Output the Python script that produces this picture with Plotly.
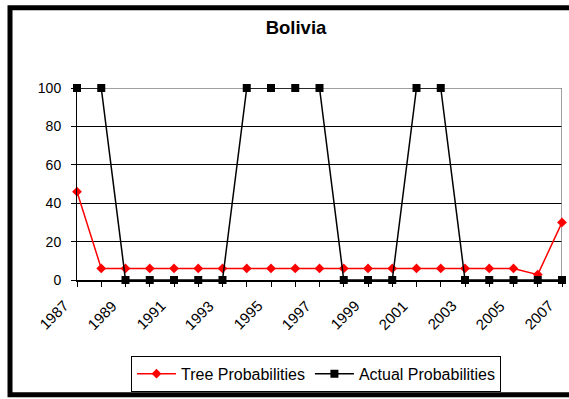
import plotly.graph_objects as go

years = list(range(1987, 2008))
tree_prob = [46, 6, 6, 6, 6, 6, 6, 6, 6, 6, 6, 6, 6, 6, 6, 6, 6, 6, 6, 2.8, 30]
actual_prob = [100, 100, 0, 0, 0, 0, 0, 100, 100, 100, 100, 0, 0, 0, 100, 100, 0, 0, 0, 0, 0]
tick_years = [str(y) for y in years[::2]]
y_ticks = [0, 20, 40, 60, 80, 100]

W, H = 569, 399
L, R, T, B = 77, 7, 88, 116
pw, ph = W - L - R, H - T - B

def px_x(x):
    return (x - L) / pw

def px_y(y):
    return (H - B - y) / ph

FONT = "Liberation Sans, Arial, sans-serif"

fig = go.Figure()
fig.add_trace(go.Scatter(
    x=years, y=tree_prob, name="Tree Probabilities", mode="lines+markers",
    line=dict(color="#FF0000", width=1.5),
    marker=dict(symbol="diamond", size=7.5, color="#FF0000"),
    cliponaxis=False,
))
fig.add_trace(go.Scatter(
    x=years, y=actual_prob, name="Actual Probabilities", mode="lines+markers",
    line=dict(color="#000000", width=1.5),
    marker=dict(symbol="square", size=8, color="#000000"),
    cliponaxis=False,
))

annotations = [
    dict(x=int(t), y=0, xref="x", yref="y", text=t, showarrow=False,
         textangle=-45, xanchor="center", yanchor="middle",
         xshift=-24, yshift=-35,
         font=dict(size=15, family=FONT, color="black"))
    for t in tick_years
]

fig.update_layout(
    width=W, height=H,
    margin=dict(l=L, r=R, t=T, b=B, pad=0),
    paper_bgcolor="white", plot_bgcolor="white",
    font=dict(family=FONT, color="black", size=14),
    title=dict(text="<b>Bolivia</b>", x=px_x(296), xref="paper", xanchor="center",
               y=1 - 28 / H, yref="container", yanchor="middle",
               font=dict(size=18.5, family=FONT, color="black")),
    showlegend=True,
    legend=dict(orientation="h", x=px_x(316), xanchor="center", y=px_y(360), yanchor="top",
                bordercolor="black", borderwidth=1, bgcolor="white",
                font=dict(size=16, family=FONT, color="black"),
                itemwidth=39, tracegroupgap=0),
    xaxis=dict(
        type="linear", range=[years[0], years[-1]],
        tickmode="array", tickvals=years[::2], showticklabels=False,
        ticks="outside", ticklen=5, tickcolor="black", tickwidth=1,
        minor=dict(dtick=1, tick0=years[0], ticks="outside", ticklen=5, tickcolor="black", showgrid=False),
        showline=True, linecolor="black", linewidth=1.5,
        showgrid=False, zeroline=False,
    ),
    yaxis=dict(
        range=[0, 100], tickmode="array", tickvals=y_ticks,
        ticks="outside", ticklen=5, tickcolor="black", ticklabelstandoff=7,
        showline=True, linecolor="black", linewidth=1,
        showgrid=True, gridcolor="black", gridwidth=1,
        zeroline=False,
        tickfont=dict(size=14, family=FONT, color="black"),
    ),
    annotations=annotations,
    shapes=[
        dict(type="line", xref="x", yref="y", x0=years[0], x1=years[-1], y0=100, y1=100,
             line=dict(color="#808080", width=1.5), layer="between"),
        dict(type="line", xref="x", yref="y", x0=years[-1], x1=years[-1], y0=0, y1=100,
             line=dict(color="#808080", width=1.5), layer="between"),
        dict(type="rect", xref="paper", yref="paper",
             x0=px_x(10), x1=px_x(600), y0=px_y(399.5), y1=px_y(6.5),
             line=dict(color="black", width=5), fillcolor="rgba(0,0,0,0)", layer="above"),
    ],
)

fig.write_html("out.html")
